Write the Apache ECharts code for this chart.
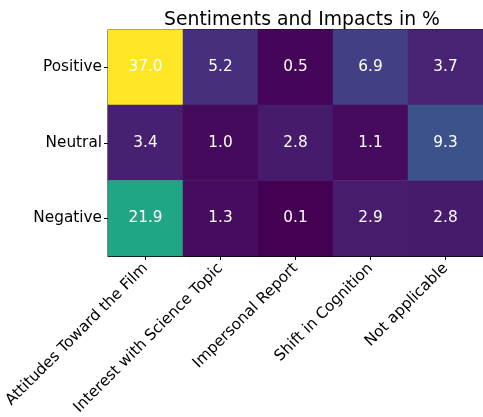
<!DOCTYPE html>
<html><head><meta charset="utf-8">
<script src="https://cdn.jsdelivr.net/npm/echarts@6/dist/echarts.min.js"></script>
<style>html,body{margin:0;padding:0;background:#fff;}#c{width:483px;height:417px;}</style>
</head><body><div id="c"></div>
<script>
const categories = ["Attitudes Toward the Film","Interest with Science Topic","Impersonal Report","Shift in Cognition","Not applicable"];
const sentiments = ["Positive","Neutral","Negative"];
const positive = [37.0, 5.2, 0.5, 6.9, 3.7];
const neutral = [3.4, 1.0, 2.8, 1.1, 9.3];
const negative = [21.9, 1.3, 0.1, 2.9, 2.8];
const title = "Sentiments and Impacts in %";

const rows = [positive, neutral, negative];
const data = [];
rows.forEach((r, yi) => r.forEach((v, xi) => data.push([xi, yi, v])));
const allVals = data.map(d => d[2]);
const viridis = ["#440154","#471365","#482475","#463480","#414487","#3b528b","#355f8d","#2f6c8e","#2a788e","#25848e","#21918c","#1e9c89","#22a884","#2fb47c","#44bf70","#5ec962","#7ad151","#9bd93c","#bddf26","#dfe318","#fde725"];
const font = "DejaVu Sans";
const chart = echarts.init(document.getElementById('c'));
chart.setOption({
  animation: false,
  title: {text: title, left: 297, top: 6, textAlign: 'center',
    textStyle: {fontFamily: font, fontSize: 18.8, fontWeight: 'normal', color: '#000'}},
  grid: {left: 108, top: 29.5, width: 375, height: 226.5, show: true, borderColor: '#000', borderWidth: 1, backgroundColor: 'transparent', containLabel: false, outerBoundsMode: 'none'},
  xAxis: {type: 'category', data: categories,
    axisLine: {show: true, lineStyle: {color: '#000', width: 1}},
    axisTick: {show: true, alignWithLabel: true, length: 4, lineStyle: {color: '#000'}},
    axisLabel: {rotate: 45, interval: 0, margin: 10, fontFamily: font, fontSize: 15.3, color: '#000'},
    splitLine: {show: false}},
  yAxis: {type: 'category', data: sentiments, inverse: true,
    axisLine: {show: true, lineStyle: {color: '#000', width: 1}},
    axisTick: {show: true, alignWithLabel: true, length: 4, lineStyle: {color: '#000'}},
    axisLabel: {margin: 6, fontFamily: font, fontSize: 15.3, color: '#000'},
    splitLine: {show: false}},
  visualMap: {show: false, min: Math.min(...allVals), max: Math.max(...allVals), calculable: false,
    inRange: {color: viridis}, dimension: 2},
  series: [{type: 'heatmap', data: data,
    label: {show: true, color: '#fff', fontFamily: font, fontSize: 15.3,
      formatter: p => p.value[2].toFixed(1)},
    itemStyle: {borderWidth: 0},
    emphasis: {disabled: true}}]
});
</script></body></html>
